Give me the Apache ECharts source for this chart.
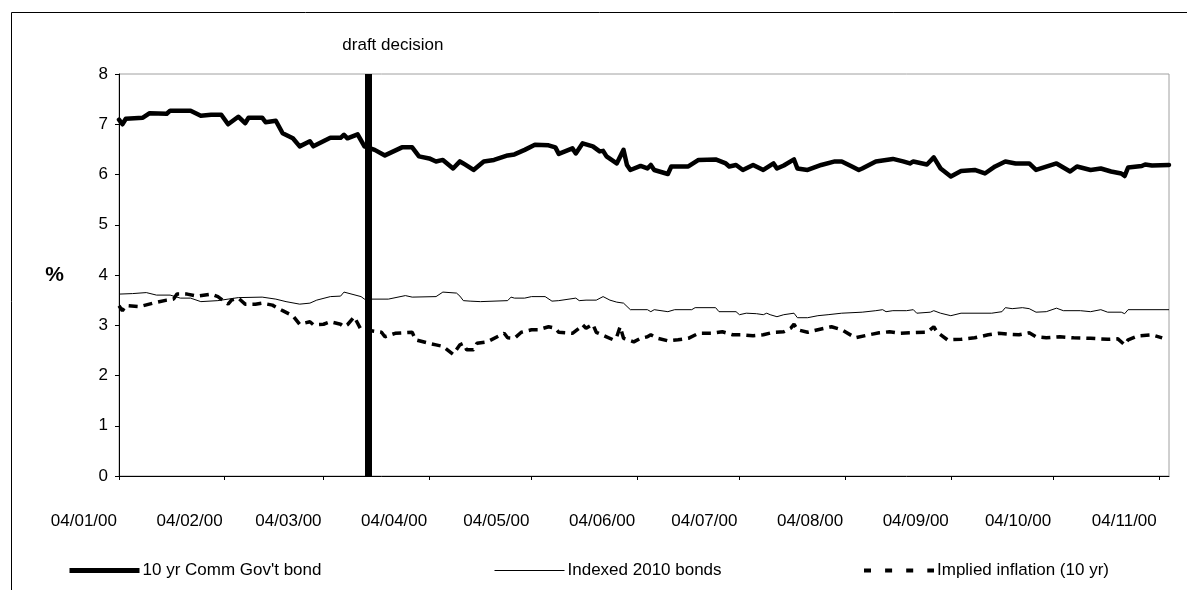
<!DOCTYPE html>
<html>
<head>
<meta charset="utf-8">
<script src="https://cdn.jsdelivr.net/npm/echarts@6/dist/echarts.min.js"></script>
<style>
html,body{margin:0;padding:0;background:#fff;}
#chart{width:1187px;height:590px;}
</style>
</head>
<body>
<div id="chart"></div>
<script>
// ---- data ----
const seriesNames = ["10 yr Comm Gov't bond", 'Indexed 2010 bonds', 'Implied inflation (10 yr)'];

const bondDates = ['2000-01-04','2000-01-05','2000-01-06','2000-01-11','2000-01-13','2000-01-18','2000-01-19','2000-01-21','2000-01-25','2000-01-28','2000-01-31','2000-02-03','2000-02-05','2000-02-08','2000-02-10','2000-02-11','2000-02-15','2000-02-16','2000-02-19','2000-02-21','2000-02-24','2000-02-26','2000-02-29','2000-03-01','2000-03-06','2000-03-09','2000-03-10','2000-03-11','2000-03-14','2000-03-16','2000-03-19','2000-03-22','2000-03-27','2000-03-30','2000-04-01','2000-04-04','2000-04-06','2000-04-08','2000-04-11','2000-04-13','2000-04-14','2000-04-17','2000-04-20','2000-04-23','2000-04-27','2000-04-29','2000-05-02','2000-05-05','2000-05-09','2000-05-11','2000-05-12','2000-05-16','2000-05-17','2000-05-19','2000-05-22','2000-05-24','2000-05-25','2000-05-26','2000-05-29','2000-05-31','2000-06-01','2000-06-02','2000-06-05','2000-06-07','2000-06-08','2000-06-09','2000-06-13','2000-06-14','2000-06-19','2000-06-22','2000-06-27','2000-06-30','2000-07-01','2000-07-03','2000-07-05','2000-07-08','2000-07-11','2000-07-14','2000-07-15','2000-07-17','2000-07-20','2000-07-21','2000-07-24','2000-07-28','2000-08-01','2000-08-03','2000-08-06','2000-08-08','2000-08-09','2000-08-13','2000-08-18','2000-08-21','2000-08-23','2000-08-24','2000-08-28','2000-08-30','2000-09-01','2000-09-04','2000-09-07','2000-09-11','2000-09-14','2000-09-17','2000-09-20','2000-09-23','2000-09-27','2000-09-29','2000-10-05','2000-10-09','2000-10-11','2000-10-15','2000-10-18','2000-10-21','2000-10-24','2000-10-25','2000-10-26','2000-10-30','2000-10-31','2000-11-02','2000-11-07'];
const bondValues = [7.09,7.00,7.11,7.13,7.22,7.21,7.27,7.27,7.27,7.17,7.19,7.19,7.00,7.15,7.02,7.13,7.13,7.04,7.07,6.82,6.72,6.56,6.66,6.56,6.73,6.73,6.79,6.72,6.80,6.56,6.49,6.38,6.54,6.54,6.36,6.32,6.26,6.29,6.12,6.26,6.22,6.09,6.26,6.29,6.38,6.40,6.49,6.59,6.58,6.54,6.41,6.52,6.42,6.62,6.56,6.46,6.47,6.36,6.22,6.49,6.19,6.09,6.17,6.12,6.19,6.09,6.01,6.16,6.16,6.29,6.30,6.22,6.16,6.19,6.09,6.19,6.09,6.22,6.12,6.18,6.30,6.12,6.09,6.19,6.26,6.26,6.16,6.09,6.12,6.26,6.31,6.26,6.22,6.26,6.20,6.34,6.12,5.96,6.07,6.09,6.02,6.16,6.26,6.22,6.22,6.09,6.22,6.06,6.16,6.09,6.12,6.06,6.02,5.97,6.14,6.17,6.20,6.18,6.19];

const indexedDates = ['2000-01-04','2000-01-08','2000-01-12','2000-01-15','2000-01-19','2000-01-22','2000-01-25','2000-01-28','2000-02-02','2000-02-05','2000-02-08','2000-02-15','2000-02-19','2000-02-22','2000-02-26','2000-02-29','2000-03-02','2000-03-06','2000-03-09','2000-03-10','2000-03-15','2000-03-16','2000-03-23','2000-03-28','2000-03-30','2000-04-06','2000-04-08','2000-04-12','2000-04-13','2000-04-14','2000-04-16','2000-04-19','2000-04-23','2000-04-27','2000-04-28','2000-04-29','2000-05-02','2000-05-04','2000-05-08','2000-05-10','2000-05-12','2000-05-15','2000-05-17','2000-05-18','2000-05-20','2000-05-23','2000-05-25','2000-05-27','2000-05-29','2000-05-31','2000-06-02','2000-06-07','2000-06-08','2000-06-09','2000-06-13','2000-06-15','2000-06-20','2000-06-21','2000-06-27','2000-06-28','2000-07-03','2000-07-04','2000-07-06','2000-07-09','2000-07-11','2000-07-12','2000-07-13','2000-07-15','2000-07-17','2000-07-20','2000-07-21','2000-07-24','2000-07-27','2000-07-30','2000-08-03','2000-08-09','2000-08-13','2000-08-15','2000-08-16','2000-08-18','2000-08-22','2000-08-24','2000-08-25','2000-08-29','2000-08-30','2000-09-01','2000-09-04','2000-09-07','2000-09-16','2000-09-19','2000-09-20','2000-09-22','2000-09-25','2000-09-27','2000-09-29','2000-10-02','2000-10-05','2000-10-07','2000-10-12','2000-10-15','2000-10-18','2000-10-20','2000-10-24','2000-10-25','2000-10-26','2000-11-07'];
const indexedValues = [3.62,3.63,3.65,3.60,3.60,3.54,3.54,3.47,3.49,3.52,3.55,3.56,3.52,3.47,3.42,3.44,3.50,3.57,3.58,3.66,3.57,3.52,3.52,3.59,3.56,3.57,3.66,3.64,3.58,3.49,3.48,3.47,3.48,3.49,3.56,3.54,3.54,3.57,3.57,3.48,3.49,3.52,3.54,3.49,3.50,3.50,3.57,3.50,3.46,3.44,3.31,3.31,3.27,3.31,3.27,3.31,3.31,3.35,3.35,3.27,3.27,3.21,3.24,3.23,3.21,3.24,3.21,3.17,3.21,3.24,3.15,3.15,3.19,3.21,3.24,3.26,3.29,3.31,3.27,3.29,3.29,3.31,3.24,3.26,3.29,3.24,3.19,3.24,3.24,3.27,3.35,3.33,3.35,3.33,3.26,3.27,3.34,3.29,3.29,3.27,3.31,3.26,3.26,3.23,3.31,3.31];

const inflationDates = ['2000-01-04','2000-01-05','2000-01-06','2000-01-10','2000-01-14','2000-01-18','2000-01-20','2000-01-21','2000-01-24','2000-01-27','2000-01-31','2000-02-02','2000-02-05','2000-02-06','2000-02-08','2000-02-10','2000-02-13','2000-02-15','2000-02-18','2000-02-21','2000-02-24','2000-02-26','2000-02-29','2000-03-01','2000-03-04','2000-03-06','2000-03-09','2000-03-10','2000-03-11','2000-03-13','2000-03-15','2000-03-18','2000-03-21','2000-03-22','2000-03-25','2000-03-30','2000-03-31','2000-04-04','2000-04-06','2000-04-08','2000-04-11','2000-04-13','2000-04-14','2000-04-15','2000-04-17','2000-04-18','2000-04-21','2000-04-26','2000-04-27','2000-04-29','2000-05-01','2000-05-04','2000-05-06','2000-05-09','2000-05-11','2000-05-12','2000-05-16','2000-05-18','2000-05-19','2000-05-20','2000-05-22','2000-05-23','2000-05-26','2000-05-28','2000-05-29','2000-05-30','2000-05-31','2000-06-03','2000-06-05','2000-06-07','2000-06-08','2000-06-10','2000-06-13','2000-06-16','2000-06-19','2000-06-22','2000-06-26','2000-06-29','2000-07-02','2000-07-05','2000-07-08','2000-07-11','2000-07-14','2000-07-17','2000-07-19','2000-07-20','2000-07-21','2000-07-24','2000-07-27','2000-07-31','2000-08-03','2000-08-06','2000-08-07','2000-08-11','2000-08-14','2000-08-17','2000-08-20','2000-08-23','2000-08-28','2000-08-30','2000-08-31','2000-09-03','2000-09-07','2000-09-11','2000-09-15','2000-09-18','2000-09-21','2000-09-24','2000-09-27','2000-09-29','2000-10-02','2000-10-06','2000-10-10','2000-10-15','2000-10-20','2000-10-23','2000-10-25','2000-10-26','2000-10-29','2000-11-02','2000-11-05'];
const inflationValues = [3.39,3.29,3.39,3.37,3.44,3.50,3.52,3.62,3.62,3.58,3.62,3.57,3.42,3.50,3.54,3.42,3.42,3.44,3.40,3.29,3.19,3.02,3.07,3.01,3.02,3.07,3.02,2.97,3.01,3.17,2.91,2.89,2.86,2.77,2.84,2.86,2.71,2.64,2.61,2.58,2.42,2.61,2.64,2.51,2.51,2.64,2.67,2.84,2.75,2.74,2.86,2.91,2.91,2.97,2.94,2.86,2.84,2.94,3.01,2.94,3.02,2.86,2.77,2.71,2.77,2.97,2.74,2.67,2.74,2.77,2.81,2.74,2.69,2.71,2.74,2.84,2.84,2.87,2.81,2.81,2.79,2.81,2.86,2.87,2.94,3.02,2.91,2.86,2.91,2.97,2.91,2.79,2.75,2.81,2.85,2.87,2.84,2.85,2.86,2.97,2.86,2.71,2.72,2.75,2.81,2.84,2.82,2.81,2.85,2.77,2.75,2.77,2.75,2.74,2.72,2.73,2.61,2.71,2.79,2.81,2.75];

const xTickDates = ['2000-01-04','2000-02-04','2000-03-04','2000-04-04','2000-05-04','2000-06-04','2000-07-04','2000-08-04','2000-09-04','2000-10-04','2000-11-04'];
const xMinDate = '2000-01-04';
const xMaxDate = '2000-11-07';
const decisionDate = '2000-03-17';
const decisionLabel = 'draft decision';
const yAxisName = '%';

// ---- helpers ----
const ts = s => { const p = s.split('-').map(Number); return new Date(p[0], p[1] - 1, p[2]).getTime(); };
const pad = n => (n < 10 ? '0' : '') + n;
const fmt = v => { const d = new Date(v); return pad(d.getDate()) + '/' + pad(d.getMonth() + 1) + '/' + pad(d.getFullYear() % 100); };
const pairs = (ds, vs) => ds.map((d, i) => [ts(d), vs[i]]);

const FONT = '"Liberation Sans", Arial, sans-serif';
const chart = echarts.init(document.getElementById('chart'), null, { renderer: 'canvas' });
const tickTs = xTickDates.map(ts);

const legendStyles = [
  { left: 67, lineStyle: { width: 5, type: 'solid' } },
  { left: 494, lineStyle: { width: 1, type: 'solid' } },
  { left: 862, lineStyle: { width: 4, type: [7, 14.1] } }
];
const legends = seriesNames.map((n, i) => ({
  left: legendStyles[i].left, top: 562, itemGap: 0, itemWidth: 70, itemHeight: 14, padding: 0,
  textStyle: { fontFamily: FONT, fontSize: 17, color: '#000', padding: [0, 0, 0, -2] },
  data: [{ name: n, itemStyle: { opacity: 0, color: 'transparent', borderWidth: 0 }, lineStyle: Object.assign({ color: '#000', cap: 'butt' }, legendStyles[i].lineStyle) }]
}));

chart.setOption({
  animation: false,
  backgroundColor: '#fff',
  textStyle: { fontFamily: FONT },
  grid: { left: 119, top: 74, width: 1050, height: 402, show: true, borderColor: '#a0a0a0', borderWidth: 1, backgroundColor: 'transparent' },
  graphic: [{ type: 'rect', shape: { x: 11.5, y: 12.5, width: 1300, height: 700 }, style: { fill: 'none', stroke: '#000', lineWidth: 1 }, silent: true, z: 100 }],
  legend: legends,
  xAxis: {
    type: 'value', min: ts(xMinDate), max: ts(xMaxDate),
    axisLine: { show: true, lineStyle: { color: '#000', width: 1 } },
    axisTick: { show: true, inside: false, length: 4, customValues: tickTs, lineStyle: { color: '#000' } },
    axisLabel: { customValues: tickTs, formatter: fmt, align: 'right', margin: 37, fontSize: 17, color: '#000', fontFamily: FONT, padding: [0, 2, 0, 0] },
    splitLine: { show: false }
  },
  yAxis: {
    type: 'value', min: 0, max: 8, interval: 1,
    name: yAxisName, nameLocation: 'middle', nameRotate: 0, nameGap: 55,
    nameTextStyle: { fontFamily: FONT, fontSize: 21, fontWeight: 'bold', color: '#000', padding: [0, 0, 14, 0] },
    axisLine: { show: true, lineStyle: { color: '#000', width: 1 } },
    axisTick: { show: true, inside: false, length: 4, lineStyle: { color: '#000' } },
    axisLabel: { fontSize: 17, color: '#000', margin: 11, fontFamily: FONT },
    splitLine: { show: false }
  },
  series: [
    {
      name: seriesNames[0], type: 'line', symbol: 'none', data: pairs(bondDates, bondValues),
      lineStyle: { color: '#000', width: 4.5, join: 'round', cap: 'round' }, itemStyle: { color: '#000' }, z: 5,
      markLine: {
        silent: true, symbol: ['none', 'none'], animation: false,
        lineStyle: { color: '#000', width: 7, type: 'solid' },
        label: { show: true, position: 'end', formatter: decisionLabel, fontSize: 17, color: '#000', fontFamily: FONT, distance: 20, padding: [0, 0, 0, 50] },
        data: [{ xAxis: ts(decisionDate) }]
      }
    },
    {
      name: seriesNames[1], type: 'line', symbol: 'none', data: pairs(indexedDates, indexedValues),
      lineStyle: { color: '#000', width: 1 }, itemStyle: { color: '#000' }, z: 4
    },
    {
      name: seriesNames[2], type: 'line', symbol: 'none', data: pairs(inflationDates, inflationValues),
      lineStyle: { color: '#000', width: 3.5, type: [9, 6] }, itemStyle: { color: '#000' }, z: 3
    }
  ]
});
</script>
</body>
</html>
